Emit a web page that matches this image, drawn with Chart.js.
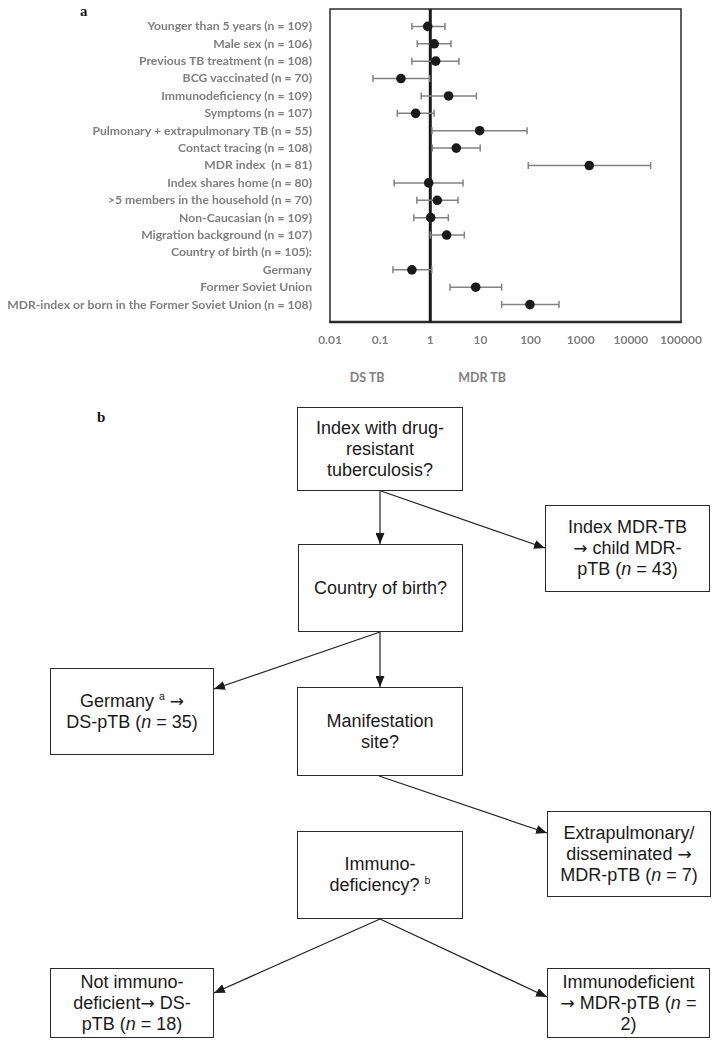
<!DOCTYPE html>
<html><head><meta charset="utf-8">
<script src="https://cdn.jsdelivr.net/npm/chart.js@4.4.1/dist/chart.umd.min.js"></script>
<style>
html,body{margin:0;padding:0;background:#fff;}
body{width:712px;height:1040px;position:relative;overflow:hidden;}
#c{position:absolute;left:0;top:0;}
.lbl{position:absolute;font-family:Lato,sans-serif;font-weight:700;font-size:12.5px;color:#7f7f7f;transform:translate(-50%,-50%);white-space:nowrap;}
.panel{position:absolute;font-family:"Liberation Serif",serif;font-weight:700;font-size:15px;color:#111;line-height:15px;}
.box{position:absolute;box-sizing:border-box;border:1.5px solid #2a2a2a;display:flex;align-items:center;justify-content:center;text-align:center;font-family:"Liberation Sans",Arial,sans-serif;font-size:18px;line-height:21px;color:#1a1a1a;background:#fff;}
.box sup{font-size:10.5px;line-height:0;vertical-align:7px;}
.box .ar{font-family:"DejaVu Sans",sans-serif;font-size:17px;}
svg{position:absolute;left:0;top:0;}
</style></head>
<body>
<canvas id="c" width="712" height="360"></canvas>
<div class="panel" style="left:80px;top:4px;">a</div>
<div class="panel" style="left:97px;top:410px;">b</div>
<div class="lbl" style="left:367px;top:377px;">DS TB</div>
<div class="lbl" style="left:482px;top:377px;">MDR TB</div>
<svg id="arrows" width="712" height="1040"></svg>
<div id="flow"></div>
<script>
// ---------- Forest plot data ----------
const categories = [
  "Younger than 5 years (n = 109)",
  "Male sex (n = 106)",
  "Previous TB treatment (n = 108)",
  "BCG vaccinated (n = 70)",
  "Immunodeficiency (n = 109)",
  "Symptoms (n = 107)",
  "Pulmonary + extrapulmonary TB (n = 55)",
  "Contact tracing (n = 108)",
  "MDR index  (n = 81)",
  "Index shares home (n = 80)",
  ">5 members in the household (n = 70)",
  "Non-Caucasian (n = 109)",
  "Migration background (n = 107)",
  "Country of birth (n = 105):",
  "Germany",
  "Former Soviet Union",
  "MDR-index or born in the Former Soviet Union (n = 108)"
];
const oddsRatio = [0.89, 1.2, 1.28, 0.26, 2.32, 0.51, 9.66, 3.3, 1483, 0.93, 1.38, 1.02, 2.12, null, 0.43, 8.04, 97];
const ciLower   = [0.43, 0.55, 0.43, 0.072, 0.66, 0.22, 1.08, 1.1, 90, 0.19, 0.54, 0.47, 1.0, null, 0.18, 2.47, 26.5];
const ciUpper   = [1.96, 2.59, 3.73, 0.97, 8.3, 1.19, 85, 9.9, 24800, 4.5, 3.57, 2.29, 4.77, null, 1.07, 26.5, 369];
const tickValues = [0.01, 0.1, 1, 10, 100, 1000, 10000, 100000];
const tickLabels = ["0.01", "0.1", "1", "10", "100", "1000", "10000", "100000"];
const referenceValue = 1;

// ---------- Flowchart content ----------
const AR = '<span class="ar">\u2192</span>';
const flowTexts = [
  "Index with drug-<br>resistant<br>tuberculosis?",
  "Index MDR-TB<br>" + AR + " child MDR-<br>pTB (<i>n</i> = 43)",
  "Country of birth?",
  "Germany <sup>a</sup> " + AR + "<br>DS-pTB (<i>n</i> = 35)",
  "Manifestation<br>site?",
  "Extrapulmonary/<br>disseminated " + AR + "<br>MDR-pTB (<i>n</i> = 7)",
  "Immuno-<br>deficiency? <sup>b</sup>",
  "Not immuno-<br>deficient" + AR + " DS-<br>pTB (<i>n</i> = 18)",
  "Immunodeficient<br>" + AR + " MDR-pTB (<i>n</i> =<br>2)"
];
// layout (left, top, width, height)
const flowBoxes = [
  [297, 407, 166, 84],
  [545, 505, 165, 87],
  [298, 544, 165, 88],
  [50, 668, 164, 87],
  [297, 687, 166, 89],
  [547, 811, 164, 86],
  [297, 831, 166, 88],
  [50, 968, 164, 70],
  [547, 968, 163, 70]
];
const flowArrows = [
  [380, 491, 380, 544],
  [381, 491, 545, 548],
  [380, 632, 214, 689],
  [380, 632, 380, 687],
  [379, 776, 547, 833],
  [380, 919, 214, 993],
  [380, 919, 547, 997]
];

// ---------- Draw flowchart ----------
const flow = document.getElementById('flow');
flowTexts.forEach((t, i) => {
  const [l, tp, w, h] = flowBoxes[i];
  const d = document.createElement('div');
  d.className = 'box';
  d.style.left = l + 'px'; d.style.top = tp + 'px';
  d.style.width = w + 'px'; d.style.height = h + 'px';
  d.innerHTML = '<div>' + t + '</div>';
  flow.appendChild(d);
});
const svg = document.getElementById('arrows');
let s = '<defs><marker id="ah" markerUnits="userSpaceOnUse" markerWidth="11" markerHeight="9" refX="11" refY="4.5" orient="auto"><path d="M0,0 L11,4.5 L0,9 z" fill="#1a1a1a"/></marker></defs>';
flowArrows.forEach(a => {
  s += `<line x1="${a[0]}" y1="${a[1]}" x2="${a[2]}" y2="${a[3]}" stroke="#222" stroke-width="1.2" marker-end="url(#ah)"/>`;
});
svg.innerHTML = s;

// ---------- Forest plot ----------
const forestPlugin = {
  id: 'forest',
  beforeDatasetsDraw(chart) {
    const { ctx, chartArea: a, scales: { x, y } } = chart;
    ctx.save();
    ctx.strokeStyle = '#2b2b2b';
    ctx.lineWidth = 1.5;
    ctx.strokeRect(a.left, a.top, a.right - a.left, a.bottom - a.top);
    ctx.lineWidth = 2.4;
    ctx.beginPath(); ctx.moveTo(a.left - 0.75, a.bottom); ctx.lineTo(a.right + 0.75, a.bottom); ctx.stroke();
    const x1 = x.getPixelForValue(referenceValue);
    ctx.strokeStyle = '#1a1a1a';
    ctx.lineWidth = 3;
    ctx.beginPath(); ctx.moveTo(x1, a.top); ctx.lineTo(x1, a.bottom); ctx.stroke();
    ctx.strokeStyle = '#828282';
    ctx.lineWidth = 1.5;
    ciLower.forEach((lo, i) => {
      if (lo == null) return;
      const yy = y.getPixelForValue(i + 1);
      const xl = x.getPixelForValue(lo), xh = x.getPixelForValue(ciUpper[i]);
      ctx.beginPath();
      ctx.moveTo(xl, yy); ctx.lineTo(xh, yy);
      ctx.moveTo(xl, yy - 3.5); ctx.lineTo(xl, yy + 3.5);
      ctx.moveTo(xh, yy - 3.5); ctx.lineTo(xh, yy + 3.5);
      ctx.stroke();
    });
    ctx.restore();
  }
};

const points = [];
oddsRatio.forEach((v, i) => { if (v != null) points.push({ x: v, y: i + 1 }); });

const tickFont = { family: 'Lato', weight: 'bold', size: 12.2 };
new Chart(document.getElementById('c'), {
  type: 'scatter',
  data: { datasets: [{ data: points, pointRadius: 4.8, pointHoverRadius: 4.8, backgroundColor: '#1a1a1a', borderWidth: 0 }] },
  options: {
    responsive: false,
    animation: false,
    devicePixelRatio: 1,
    layout: { padding: { top: 9, right: 31, left: 0, bottom: 0 } },
    plugins: { legend: { display: false }, tooltip: { enabled: false } },
    scales: {
      x: {
        type: 'logarithmic', position: 'bottom', min: 0.01, max: 100000,
        afterBuildTicks: sc => { sc.ticks = tickValues.map(v => ({ value: v, major: true })); },
        afterFit: sc => { sc.height = 38; sc.paddingLeft = 0; sc.paddingRight = 0; },
        grid: { display: false, drawTicks: false },
        border: { display: false },
        ticks: { callback: (v, i) => tickLabels[i], color: '#7f7f7f', font: { family: 'Lato', weight: 'bold', size: 12 }, padding: 11, maxRotation: 0, autoSkip: false }
      },
      y: {
        type: 'linear', reverse: true, min: 0, max: 18,
        afterBuildTicks: sc => { sc.ticks = categories.map((c, i) => ({ value: i + 1 })); },
        afterFit: sc => { sc.width = 330; sc.paddingTop = 0; sc.paddingBottom = 0; },
        grid: { display: false, drawTicks: false },
        border: { display: false },
        ticks: { callback: v => categories[v - 1], color: '#7f7f7f', font: tickFont, padding: 18, autoSkip: false }
      }
    }
  },
  plugins: [forestPlugin]
});
</script>
</body></html>
